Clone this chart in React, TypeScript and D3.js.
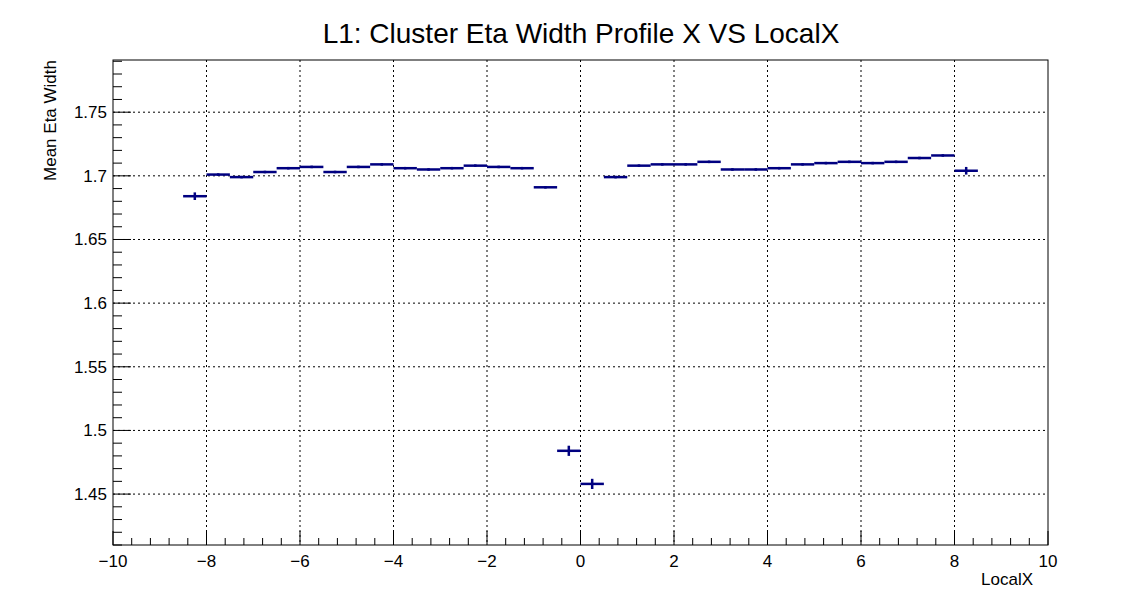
import * as d3 from 'd3';

const binCenters = [
  -8.25, -7.75, -7.25, -6.75, -6.25, -5.75, -5.25, -4.75, -4.25, -3.75, -3.25, -2.75,
  -2.25, -1.75, -1.25, -0.75, -0.25, 0.25, 0.75, 1.25, 1.75, 2.25, 2.75, 3.25, 3.75,
  4.25, 4.75, 5.25, 5.75, 6.25, 6.75, 7.25, 7.75, 8.25,
];
const meanValues = [
  1.684, 1.701, 1.699, 1.703, 1.706, 1.707, 1.703, 1.707, 1.709, 1.706, 1.705, 1.706,
  1.708, 1.707, 1.706, 1.691, 1.484, 1.458, 1.699, 1.708, 1.709, 1.709, 1.711, 1.705,
  1.705, 1.706, 1.709, 1.71, 1.711, 1.71, 1.711, 1.714, 1.716, 1.704,
];
const errors = [
  0.003, 0.001, 0.001, 0.001, 0.001, 0.001, 0.001, 0.001, 0.001, 0.001, 0.001, 0.001,
  0.001, 0.001, 0.001, 0.001, 0.004, 0.004, 0.001, 0.001, 0.001, 0.001, 0.001, 0.001,
  0.001, 0.001, 0.001, 0.001, 0.001, 0.001, 0.001, 0.001, 0.001, 0.003,
];
const xTicks = [-10, -8, -6, -4, -2, 0, 2, 4, 6, 8, 10];
const yTicks = [1.45, 1.5, 1.55, 1.6, 1.65, 1.7, 1.75];
const binWidth = 0.5;

export default function App() {
  const W = 1134, H = 606;
  const L = 113, R = 1048, T = 60, B = 545;
  const x = d3.scaleLinear().domain([-10, 10]).range([L, R]);
  const y = d3.scaleLinear().domain([1.41, 1.791]).range([B, T]);
  const xMinor = d3.range(-10, 10.001, 0.4);
  const yMinor = d3.range(1.41, 1.791, 0.01);
  const font = 'Liberation Sans, Arial, sans-serif';
  const col = '#000080';

  return (
    <svg width={W} height={H} style={{ position: 'absolute', left: 0, top: 0, background: '#fff' }} fontFamily={font}>
      <rect x={0} y={0} width={W} height={H} fill="#fff" />
      <text x={581} y={43} textAnchor="middle" fontSize={28}>L1: Cluster Eta Width Profile X VS LocalX</text>
      {xTicks.slice(1, -1).map((t) => (
        <line key={'gx' + t} x1={x(t)} x2={x(t)} y1={T} y2={B} stroke="#000" strokeDasharray="2,3" />
      ))}
      {yTicks.map((t) => (
        <line key={'gy' + t} x1={L} x2={R} y1={y(t)} y2={y(t)} stroke="#000" strokeDasharray="2,3" />
      ))}
      <rect x={L} y={T} width={R - L} height={B - T} fill="none" stroke="#000" />
      {xMinor.map((t, i) => (
        <line key={'mx' + i} x1={x(t)} x2={x(t)} y1={B} y2={B - (i % 5 === 0 ? 14 : 7)} stroke="#000" />
      ))}
      {yMinor.map((t, i) => {
        const major = yTicks.some((v) => Math.abs(v - t) < 1e-6);
        return <line key={'my' + i} x1={L} x2={L + (major ? 18 : 9)} y1={y(t)} y2={y(t)} stroke="#000" />;
      })}
      {xTicks.map((t) => (
        <text key={'lx' + t} x={x(t)} y={567} textAnchor="middle" fontSize={17}>{t < 0 ? '\u2212' + -t : t}</text>
      ))}
      {yTicks.map((t) => (
        <text key={'ly' + t} x={L - 6} y={y(t) + 6} textAnchor="end" fontSize={17}>{String(t)}</text>
      ))}
      <text x={R - 15} y={585} textAnchor="end" fontSize={17}>LocalX</text>
      <text transform={`translate(56, ${T}) rotate(-90)`} textAnchor="end" fontSize={17}>Mean Eta Width</text>
      {binCenters.map((c, i) => (
        <g key={'p' + i} stroke={col} strokeWidth={2.5}>
          <line x1={x(c - binWidth / 2)} x2={x(c + binWidth / 2)} y1={y(meanValues[i])} y2={y(meanValues[i])} />
          <line x1={x(c)} x2={x(c)} y1={y(meanValues[i] - errors[i])} y2={y(meanValues[i] + errors[i])} />
        </g>
      ))}
    </svg>
  );
}
